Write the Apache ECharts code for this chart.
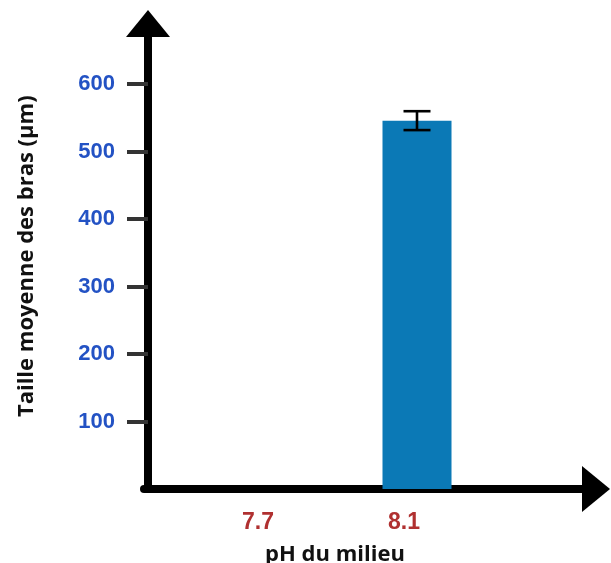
<!DOCTYPE html>
<html>
<head>
<meta charset="utf-8">
<script src="https://cdn.jsdelivr.net/npm/echarts@6/dist/echarts.min.js"></script>
<style>
html,body{margin:0;padding:0;background:#fff;}
#chart{width:611px;height:563px;}
</style>
</head>
<body>
<div id="chart"></div>
<script>
// ---- data ----
var categories = ['7.7', '8.1'];
var meanValues = [null, 546];
var errorValues = [null, 14];
var yTickValues = [100, 200, 300, 400, 500, 600];
var yAxisTitle = 'Taille moyenne des bras (µm)';
var xAxisTitle = 'pH du milieu';

var errorData = [];
for (var i = 0; i < categories.length; i++) {
  if (meanValues[i] != null) errorData.push([i, meanValues[i], errorValues[i]]);
}

var chart = echarts.init(document.getElementById('chart'), null, {renderer: 'canvas'});
var option = {
  backgroundColor: '#ffffff',
  animation: false,
  grid: [
    {left: 198, right: 121, top: 23.5, bottom: 74, containLabel: false, outerBoundsMode: 'none'},
    {left: 144, right: 15, top: 23.5, bottom: 74, containLabel: false, outerBoundsMode: 'none'}
  ],
  xAxis: [
    {
      gridIndex: 0,
      type: 'category',
      data: categories,
      axisLine: {show: false},
      axisTick: {show: false},
      axisLabel: {
        color: '#b03030', fontSize: 23, fontWeight: 'bold',
        fontFamily: 'Liberation Sans, Arial, sans-serif',
        margin: 22, padding: [0, 26, 0, 0]
      },
      name: xAxisTitle,
      nameLocation: 'middle',
      nameGap: 55,
      nameTextStyle: {
        color: '#111', fontSize: 22, fontWeight: 'bold',
        fontFamily: 'Open Sans, sans-serif', padding: [0, 18, 0, 0]
      }
    },
    {
      gridIndex: 1,
      type: 'value',
      min: 0, max: 1,
      axisLine: {show: true, lineStyle: {color: '#000', width: 8}, symbol: ['none', 'triangle'], symbolSize: [46, 28]},
      axisTick: {show: false},
      axisLabel: {show: false},
      splitLine: {show: false}
    }
  ],
  yAxis: [
    {
      gridIndex: 0,
      type: 'value',
      min: 0, max: 690,
      offset: 50,
      axisLine: {show: true, lineStyle: {color: '#000', width: 8}, symbol: ['none', 'triangle'], symbolSize: [44, 27]},
      axisTick: {show: true, customValues: yTickValues, length: 21, lineStyle: {color: '#333', width: 4}},
      axisLabel: {
        customValues: yTickValues,
        color: '#2352c4', fontSize: 22, fontWeight: 'bold',
        fontFamily: 'Liberation Sans, Arial, sans-serif',
        margin: 33
      },
      splitLine: {show: false},
      name: yAxisTitle,
      nameLocation: 'middle',
      nameGap: 110,
      nameTextStyle: {
        color: '#111', fontSize: 22, fontWeight: 'bold',
        fontFamily: 'Open Sans, sans-serif'
      }
    },
    {
      gridIndex: 1,
      type: 'value',
      show: false
    }
  ],
  series: [
    {
      type: 'bar',
      xAxisIndex: 0, yAxisIndex: 0,
      data: meanValues,
      barWidth: 69,
      itemStyle: {color: '#0b79b6'},
      z: 2
    },
    {
      type: 'custom',
      xAxisIndex: 0, yAxisIndex: 0,
      data: errorData,
      z: 5,
      renderItem: function (params, api) {
        var x = api.value(0), m = api.value(1), e = api.value(2);
        var top = api.coord([x, m + e]);
        var bot = api.coord([x, m - e]);
        var hw = 13.5;
        var style = {stroke: '#000', lineWidth: 2.6};
        return {
          type: 'group',
          children: [
            {type: 'line', shape: {x1: top[0], y1: top[1], x2: bot[0], y2: bot[1]}, style: style},
            {type: 'line', shape: {x1: top[0] - hw, y1: top[1], x2: top[0] + hw, y2: top[1]}, style: style},
            {type: 'line', shape: {x1: bot[0] - hw, y1: bot[1], x2: bot[0] + hw, y2: bot[1]}, style: style}
          ]
        };
      }
    }
  ]
};
chart.setOption(option);
</script>
</body>
</html>
